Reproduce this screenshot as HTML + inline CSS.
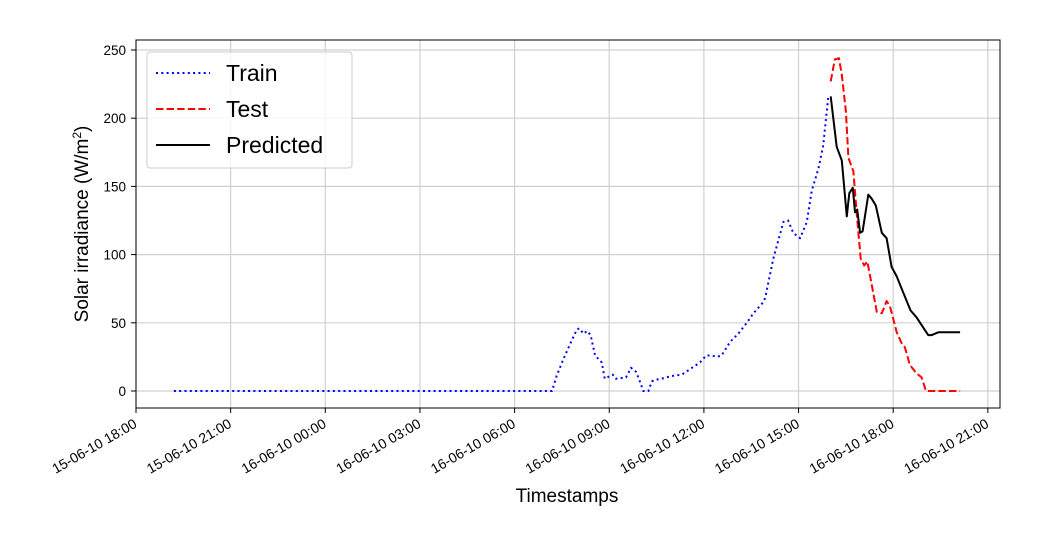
<!DOCTYPE html>
<html><head><meta charset="utf-8"><style>
body{margin:0;background:#fff;}
svg{display:block;font-family:"Liberation Sans","DejaVu Sans",sans-serif;}
</style></head><body>
<svg id="chart" width="1040" height="546">
<g id="grid"></g>
<g id="series"></g>
<rect x="136" y="40" width="864" height="368" fill="none" stroke="#000" stroke-width="1"/>
<g id="axes"></g>
<text x="567" y="502" font-size="19" text-anchor="middle">Timestamps</text>
<text transform="translate(88,224) rotate(-90)" font-size="19" text-anchor="middle">Solar irradiance (W/m<tspan baseline-shift="super" font-size="12">2</tspan>)</text>
<g>
<rect x="147" y="52" width="205" height="116" rx="3" fill="#fff" fill-opacity="0.8" stroke="#ccc"/>
<g><line x1="156" y1="73" x2="210" y2="73" stroke="#0000ff" stroke-width="2" stroke-dasharray="2,3.3"/><text x="226" y="81" font-size="23">Train</text></g>
<g><line x1="156" y1="109" x2="210" y2="109" stroke="#ff0000" stroke-width="2" stroke-dasharray="7.4,3.2"/><text x="226" y="117" font-size="23">Test</text></g>
<g><line x1="156" y1="145" x2="210" y2="145" stroke="#000" stroke-width="2"/><text x="226" y="153" font-size="23">Predicted</text></g>
</g>
</svg>
<script>
// hours since 15-06-10 18:00
const trainH=[1.20,13.19,13.33,13.54,13.81,13.97,14.05,14.18,14.30,14.41,14.55,14.76,14.86,15.11,15.21,15.53,15.69,15.85,15.97,16.08,16.24,16.35,16.42,16.66,16.98,17.30,17.56,17.88,18.07,18.25,18.41,18.56,18.83,19.09,19.36,19.57,19.88,19.94,20.20,20.52,20.67,20.83,21.05,21.26,21.42,21.63,21.78,21.94];
const trainV=[0,0,11,23,37,45,46,42,44,41,26,21,9,12,9,10,17,14,7,0,0,7,8,9,11,12,16,21,26,26,25,26,36,42,50,57,65,68,97,124,125,116,112,124,147,163,180,215];
const testH=[22.02,22.15,22.28,22.37,22.50,22.58,22.74,22.84,22.97,23.08,23.18,23.32,23.48,23.64,23.79,23.90,24.11,24.27,24.37,24.53,24.74,24.90,25.04,26.12];
const testV=[227,243,244,232,205,171,161,131,97,92,95,78,58,57,66,62,43,35,32,19,13,10,0,0];
const predH=[22.02,22.21,22.37,22.53,22.61,22.72,22.79,22.86,22.95,23.03,23.21,23.32,23.45,23.64,23.79,23.95,24.11,24.32,24.55,24.74,25.11,25.22,25.43,25.80,26.12];
const predV=[216,179,169,128,145,149,131,133,116,117,144,141,136,116,112,91,84,72,59,54,41,41,43,43,43];
const xTickH=[0,3,6,9,12,15,18,21,24,27];
const xTickLabels=["15-06-10 18:00","15-06-10 21:00","16-06-10 00:00","16-06-10 03:00","16-06-10 06:00","16-06-10 09:00","16-06-10 12:00","16-06-10 15:00","16-06-10 18:00","16-06-10 21:00"];
const yTicks=[0,50,100,150,200,250];

const NS="http://www.w3.org/2000/svg";
const X=h=>136+h*31.55;
const Y=v=>391-v*1.364;
function mk(tag,attrs,parent){const e=document.createElementNS(NS,tag);for(const k in attrs)e.setAttribute(k,attrs[k]);parent.appendChild(e);return e;}
const grid=document.getElementById('grid'),axes=document.getElementById('axes'),ser=document.getElementById('series');
xTickH.forEach((h,i)=>{
  const x=X(h);
  const gl=mk('line',{x1:x,x2:x,y1:40,y2:408,stroke:'#d0d0d0','stroke-width':1.2},grid);
  
  
  const tk=mk('line',{x1:x,x2:x,y1:408,y2:413,stroke:'#000'},axes);
  
  
  const t=mk('text',{transform:`translate(${x-3},${418}) rotate(-30)`,'text-anchor':'end','font-size':14,dy:'0.7em'},axes);
  t.textContent=xTickLabels[i];
  
  
});
yTicks.forEach(v=>{
  const y=Y(v);
  const gl=mk('line',{x1:136,x2:1000,y1:y,y2:y,stroke:'#d0d0d0','stroke-width':1.2},grid);
  
  
  const tk=mk('line',{x1:131,x2:136,y1:y,y2:y,stroke:'#000'},axes);
  
  
  const t=mk('text',{x:126,y:y+5,'text-anchor':'end','font-size':13.5},axes);
  t.textContent=v;
  
  
});
function line(H,V,attrs,name){
  const d=H.map((h,i)=>(i?'L':'M')+X(h).toFixed(1)+','+Y(V[i]).toFixed(1)).join('');
  const p=mk('path',Object.assign({d:d,fill:'none','stroke-width':2,'stroke-linejoin':'round'},attrs),ser);
  
  
}
line(trainH,trainV,{stroke:'#0000ff','stroke-dasharray':'2,3.3'},'train-line');
line(testH,testV,{stroke:'#ff0000','stroke-dasharray':'7.4,3.2'},'test-line');
line(predH,predV,{stroke:'#000'},'predicted-line');
</script>
</body></html>
